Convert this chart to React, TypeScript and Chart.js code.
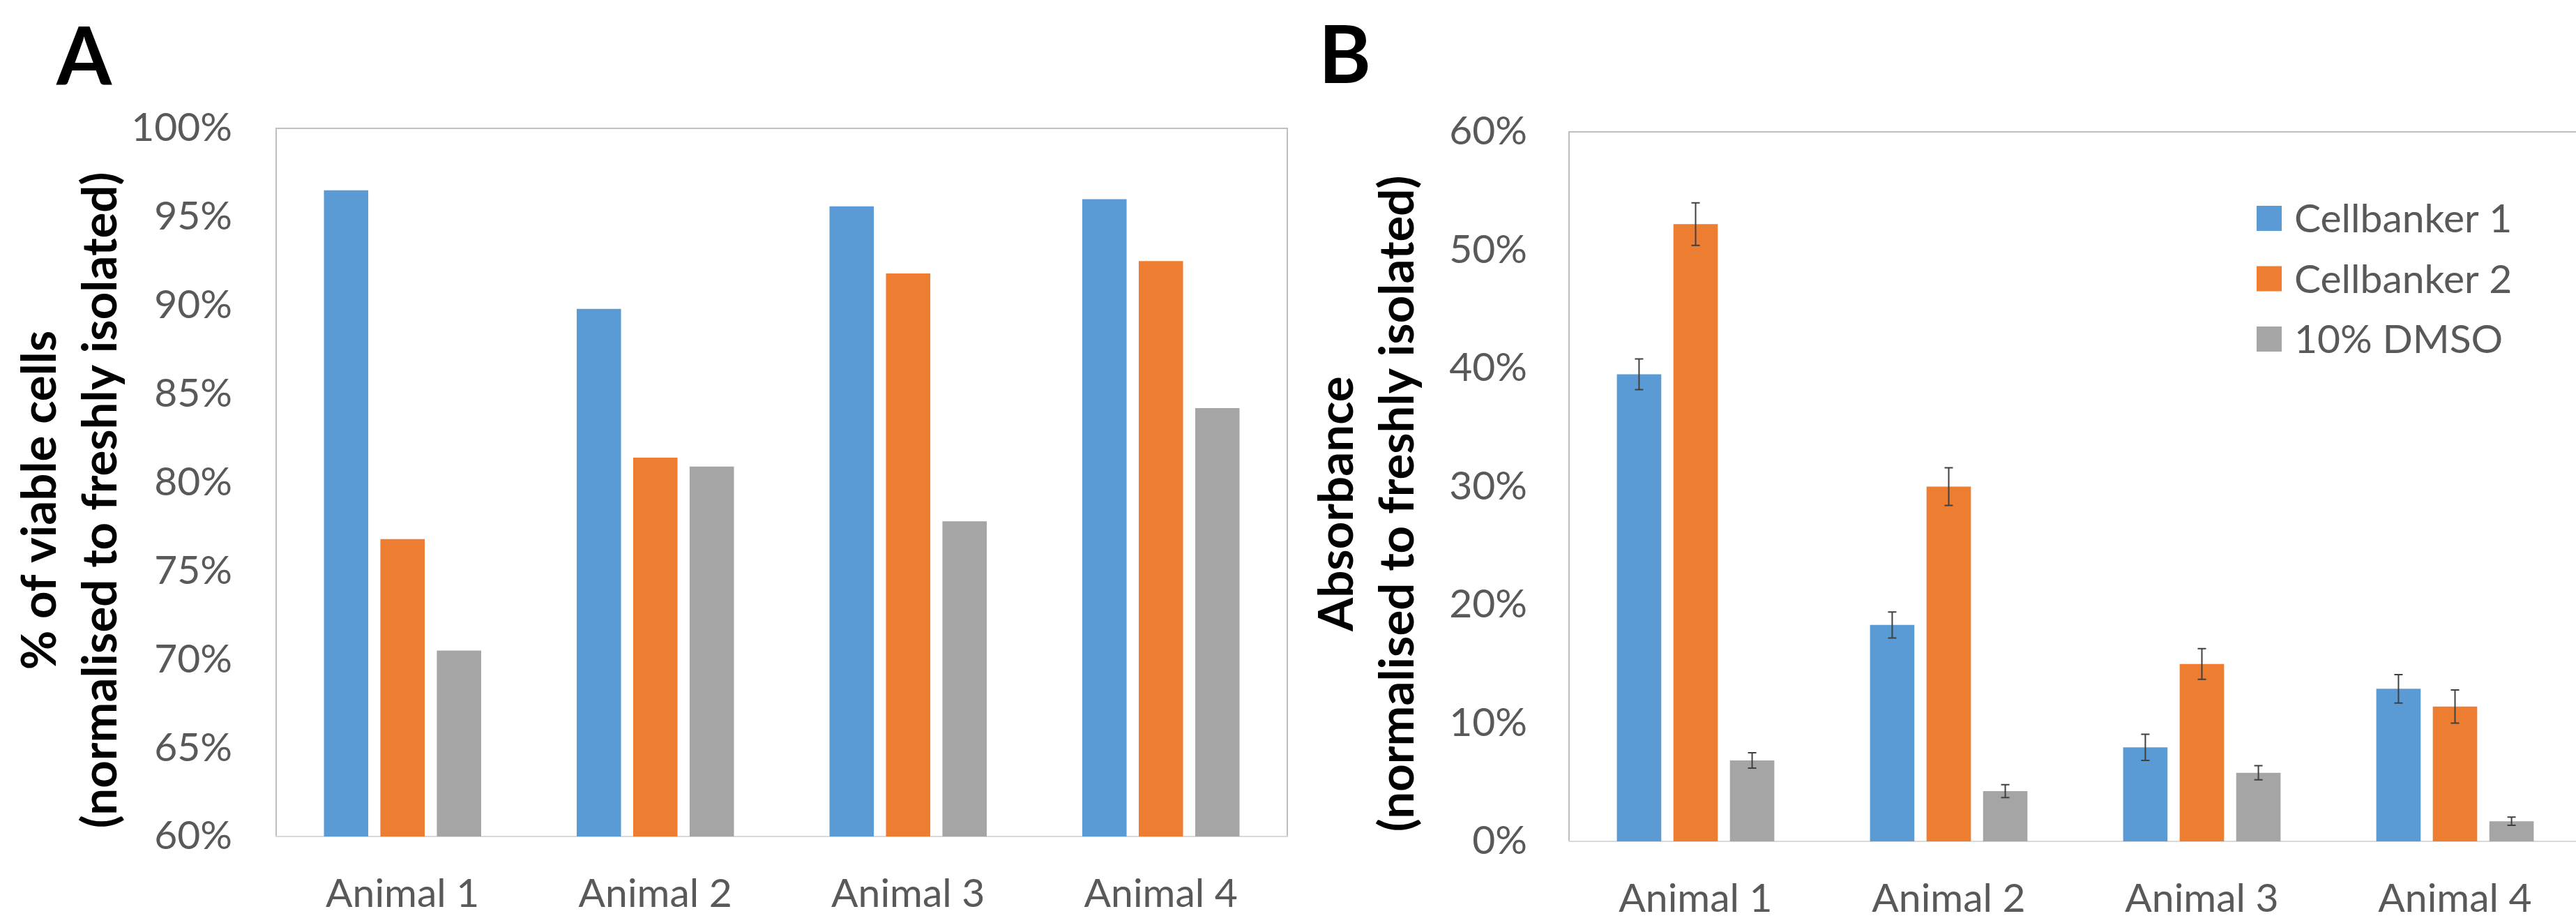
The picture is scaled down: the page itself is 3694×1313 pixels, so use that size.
import React, { useEffect, useRef } from 'react';
import { Chart, registerables } from 'chart.js';

Chart.register(...registerables);

// ---------- data ----------
const categories = ['Animal 1', 'Animal 2', 'Animal 3', 'Animal 4'];
const seriesNames = ['Cellbanker 1', 'Cellbanker 2', '10% DMSO'];
const seriesColors = ['#5B9BD5', '#ED7D31', '#A5A5A5'];

// Panel A: % of viable cells
const viabilityCB1 = [96.5, 89.8, 95.6, 96.0];
const viabilityCB2 = [76.8, 81.4, 91.8, 92.5];
const viabilityDMSO = [70.5, 80.9, 77.8, 84.2];
const ticksA = [60, 65, 70, 75, 80, 85, 90, 95, 100];

// Panel B: absorbance
const absorbCB1 = [39.5, 18.3, 7.95, 12.9];
const absorbCB2 = [52.2, 30.0, 15.0, 11.4];
const absorbDMSO = [6.85, 4.25, 5.8, 1.7];
const absorbErrCB1 = [1.3, 1.1, 1.1, 1.2];
const absorbErrCB2 = [1.8, 1.6, 1.3, 1.4];
const absorbErrDMSO = [0.65, 0.55, 0.6, 0.35];
const ticksB = [0, 10, 20, 30, 40, 50, 60];

const titleA = ['% of viable cells', '(normalised to freshly isolated)'];
const titleB = ['Absorbance', '(normalised to freshly isolated)'];

// ---------- plugins ----------
const TICK_COLOR = '#595959';
const FONT = 'Lato, "Open Sans", sans-serif';

const framePlugin = {
  id: 'frame',
  beforeDatasetsDraw(chart: any) {
    const { ctx, chartArea: a } = chart;
    ctx.save();
    ctx.lineWidth = 2;
    ctx.strokeStyle = '#BFBFBF';
    ctx.beginPath();
    ctx.moveTo(a.left, a.bottom);
    ctx.lineTo(a.left, a.top);
    ctx.lineTo(a.right, a.top);
    ctx.lineTo(a.right, a.bottom);
    ctx.stroke();
    ctx.strokeStyle = '#D9D9D9';
    ctx.beginPath();
    ctx.moveTo(a.left - 1, a.bottom);
    ctx.lineTo(a.right + 1, a.bottom);
    ctx.stroke();
    ctx.restore();
  },
};

const errorBarPlugin = {
  id: 'errorBars',
  afterDatasetsDraw(chart: any) {
    const ctx = chart.ctx;
    const yScale = chart.scales.y;
    chart.data.datasets.forEach((ds: any, di: number) => {
      const errs = ds.errors;
      if (!errs) return;
      const meta = chart.getDatasetMeta(di);
      meta.data.forEach((bar: any, i: number) => {
        const v = ds.data[i];
        const e = errs[i];
        const x = bar.x;
        const yTop = yScale.getPixelForValue(v + e);
        const yBot = yScale.getPixelForValue(v - e);
        ctx.save();
        ctx.strokeStyle = '#404040';
        ctx.lineWidth = 2;
        ctx.beginPath();
        ctx.moveTo(x, yTop);
        ctx.lineTo(x, yBot);
        ctx.moveTo(x - 6, yTop);
        ctx.lineTo(x + 6, yTop);
        ctx.moveTo(x - 6, yBot);
        ctx.lineTo(x + 6, yBot);
        ctx.stroke();
        ctx.restore();
      });
    });
  },
};

const decorPlugin = {
  id: 'decor',
  afterDraw(chart: any, _args: any, opts: any) {
    const ctx = chart.ctx;
    ctx.save();
    // panel letter
    if (opts.letter) {
      ctx.fillStyle = '#000000';
      ctx.font = `bold ${opts.letter.size}px ${FONT}`;
      ctx.textAlign = 'left';
      ctx.textBaseline = 'alphabetic';
      ctx.fillText(opts.letter.text, opts.letter.x, opts.letter.y);
    }
    // rotated y-axis title lines
    if (opts.yTitle) {
      ctx.fillStyle = '#000000';
      ctx.font = `bold ${opts.yTitle.size}px ${FONT}`;
      ctx.textAlign = 'center';
      ctx.textBaseline = 'alphabetic';
      opts.yTitle.lines.forEach((line: string, i: number) => {
        ctx.save();
        ctx.translate(opts.yTitle.baselines[i], opts.yTitle.centerY);
        ctx.rotate(-Math.PI / 2);
        ctx.fillText(line, 0, 0);
        ctx.restore();
      });
    }
    // in-plot legend
    if (opts.legend) {
      const L = opts.legend;
      ctx.font = `${L.size}px ${FONT}`;
      ctx.textAlign = 'left';
      ctx.textBaseline = 'middle';
      chart.data.datasets.forEach((ds: any, i: number) => {
        const cy = L.y + i * L.rowGap;
        ctx.fillStyle = ds.backgroundColor;
        ctx.fillRect(L.x, cy - L.box / 2, L.box, L.box);
        ctx.fillStyle = TICK_COLOR;
        ctx.fillText(ds.label, L.x + L.box + L.textGap, cy + 2);
      });
    }
    ctx.restore();
  },
};

function makeConfig(opts: {
  data: number[][];
  errors?: number[][];
  ticks: number[];
  min: number;
  max: number;
  padding: any;
  yWidth: number;
  xHeight: number;
  yTickPad: number;
  decor: any;
}) {
  return {
    type: 'bar' as const,
    data: {
      labels: categories,
      datasets: opts.data.map((d, i) => ({
        label: seriesNames[i],
        data: d,
        errors: opts.errors ? opts.errors[i] : undefined,
        backgroundColor: seriesColors[i],
        borderWidth: 0,
        categoryPercentage: 0.67,
        barPercentage: 0.785,
      })),
    },
    options: {
      responsive: false,
      animation: false as const,
      devicePixelRatio: 1,
      layout: { padding: opts.padding },
      plugins: {
        legend: { display: false },
        tooltip: { enabled: false },
        decor: opts.decor,
      },
      scales: {
        x: {
          grid: { display: false, drawTicks: false },
          border: { display: false },
          ticks: {
            color: TICK_COLOR,
            font: { family: FONT, size: 57 },
            padding: 48,
            maxRotation: 0,
            autoSkip: false,
          },
          afterFit(scale: any) {
            scale.height = opts.xHeight;
          },
        },
        y: {
          min: opts.min,
          max: opts.max,
          grid: { display: false, drawTicks: false },
          border: { display: false },
          afterBuildTicks(axis: any) {
            axis.ticks = opts.ticks.map((v) => ({ value: v }));
          },
          ticks: {
            color: TICK_COLOR,
            font: { family: FONT, size: 57 },
            padding: opts.yTickPad,
            callback: (v: any) => `${v}%`,
          },
          afterFit(scale: any) {
            scale.width = opts.yWidth;
          },
        },
      },
    },
    plugins: [framePlugin, errorBarPlugin, decorPlugin],
  };
}

function ChartCanvas({ config, width, height, left }: any) {
  const ref = useRef<HTMLCanvasElement | null>(null);
  useEffect(() => {
    if (!ref.current) return;
    const chart = new Chart(ref.current, config as any);
    return () => chart.destroy();
  }, []);
  return (
    <canvas
      ref={ref}
      width={width}
      height={height}
      style={{ position: 'absolute', left, top: 0, width, height }}
    />
  );
}

export default function App() {
  useEffect(() => {
    document.body.style.margin = '0';
    document.body.style.overflow = 'hidden';
  }, []);

  const configA = makeConfig({
    data: [viabilityCB1, viabilityCB2, viabilityDMSO],
    ticks: ticksA,
    min: 60,
    max: 100,
    padding: { top: 184, right: 4, left: 0, bottom: 0 },
    yWidth: 396,
    xHeight: 114,
    yTickPad: 63,
    decor: {
      letter: { text: 'A', x: 81, y: 122, size: 114 },
      yTitle: { lines: titleA, baselines: [80, 167], centerY: 717, size: 69 },
    },
  });

  const configB = makeConfig({
    data: [absorbCB1, absorbCB2, absorbDMSO],
    errors: [absorbErrCB1, absorbErrCB2, absorbErrDMSO],
    ticks: ticksB,
    min: 0,
    max: 60,
    padding: { top: 189, right: 8, left: 0, bottom: 0 },
    yWidth: 400,
    xHeight: 107,
    yTickPad: 60,
    decor: {
      letter: { text: 'B', x: 41, y: 119, size: 114 },
      yTitle: { lines: titleB, baselines: [90, 177], centerY: 722, size: 69 },
      legend: { x: 1386, y: 313, rowGap: 86.5, box: 36, textGap: 18, size: 57 },
    },
  });

  return (
    <div style={{ position: 'relative', width: 3694, height: 1313, overflow: 'hidden', background: '#ffffff' }}>
      <ChartCanvas config={configA} width={1850} height={1313} left={0} />
      <ChartCanvas config={configB} width={1860} height={1313} left={1850} />
    </div>
  );
}
